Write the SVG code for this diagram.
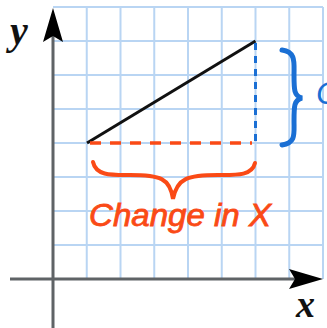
<svg xmlns="http://www.w3.org/2000/svg" width="327" height="328" viewBox="0 0 327 328">
<style>
.grid{stroke:#b9d5f3;stroke-width:2;fill:none}
.axis{stroke:#5f6366;stroke-width:3;fill:none}
.lbl{font-family:"Liberation Serif",serif;font-style:italic;font-weight:bold;fill:#111}
.red{stroke:#fa4a16;fill:none;stroke-linecap:round}
.blue{stroke:#1a6fd4;fill:none;stroke-linecap:round}
.hand{font-family:"Liberation Sans",sans-serif;font-style:italic}
</style>
<rect width="327" height="328" fill="#fff"/>
<g id="grid" class="grid">
<path d="M53 7H323M53 41H323M53 75H323M53 109H323M53 143H323M53 177H323M53 211H323M53 245H323"/>
<path d="M86.75 7V279M120.5 7V279M154.25 7V279M188 7V279M221.75 7V279M255.5 7V279M289.25 7V279M323 7V279"/>
</g>
<g id="axes">
<path class="axis" d="M53 30V328M10 279H305"/>
<path d="M53 8 L63 42 L53 36 L43 42 Z" fill="#000"/>
<path d="M323 279 L289 289 L295 279 L289 269 Z" fill="#000"/>
<text class="lbl" x="10" y="44" font-size="40">y</text>
<text class="lbl" x="296" y="317" font-size="38">x</text>
</g>
<g id="connectors">
<line id="slope" x1="87" y1="143" x2="255.5" y2="41" stroke="#111" stroke-width="3"/>
<line id="run" x1="90" y1="143" x2="252" y2="143" stroke="#fa4a16" stroke-width="3.5" stroke-dasharray="11,9"/>
<line id="rise" x1="255.5" y1="43" x2="255.5" y2="145" stroke="#1a6fd4" stroke-width="3" stroke-dasharray="7,6"/>
</g>
<g id="change-y">
<path class="blue" stroke-width="5" d="M282 50 C296 52 294 62 294 75 C294 90 294 96 302 98 C294 100 294 106 294 121 C294 134 296 143 282 145"/>
<text class="hand" x="316" y="104" font-size="32" fill="#1a6fd4">C</text>
</g>
<g id="change-x">
<path class="red" stroke-width="4" d="M93 162 C96 176 112 175 130 175 C160 175 170 178 173 199 C177 178 188 175 218 175 C236 175 252 176 255 163"/>
<text class="hand" x="89" y="226" font-size="31" fill="#fa4a16" stroke="#fa4a16" stroke-width="0.8" textLength="182" lengthAdjust="spacingAndGlyphs">Change in X</text>
</g>
</svg>
